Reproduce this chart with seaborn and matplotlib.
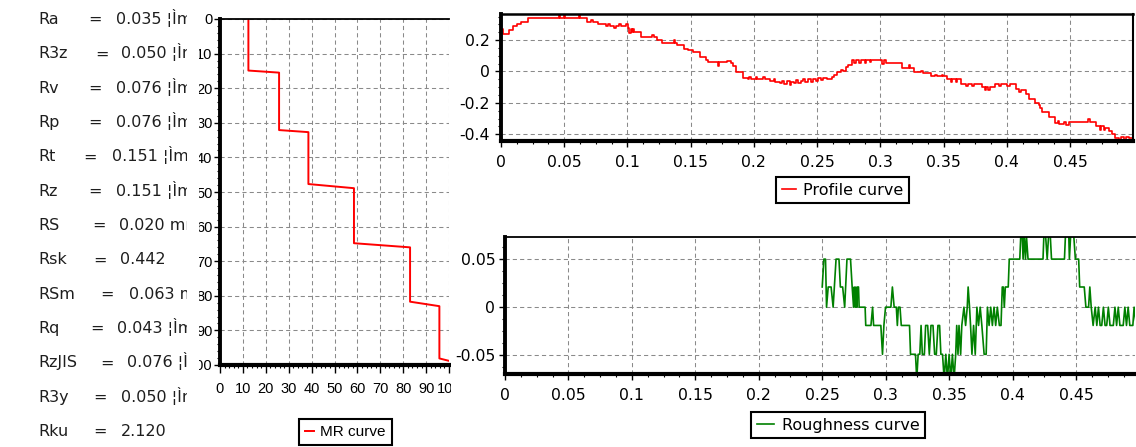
import matplotlib
matplotlib.use("Agg")
import matplotlib.pyplot as plt
import seaborn as sns
from matplotlib.ticker import FixedLocator, MultipleLocator, FuncFormatter
from matplotlib import font_manager
from matplotlib.font_manager import FontProperties

# ---------------- data ----------------
param_names = ["Ra", "R3z", "Rv", "Rp", "Rt", "Rz", "RS", "Rsk", "RSm", "Rq", "RzJIS", "R3y", "Rku"]
param_values = ["0.035", "0.050", "0.076", "0.076", "0.151", "0.151", "0.020", "0.442",
                "0.063", "0.043", "0.076", "0.050", "2.120"]
param_units = ["¦Ìm", "¦Ìm", "¦Ìm", "¦Ìm", "¦Ìm", "¦Ìm", "mm", "", "mm", "¦Ìm", "¦Ìm", "¦Ìm", ""]

mr_depth = [12.4, 12.4, 25.8, 25.8, 38.6, 38.6, 58.5, 58.5, 83.0, 83.0, 95.8, 95.8, 100.0]
mr_ratio = [0.0, 14.9, 15.5, 32.1, 32.7, 47.7, 48.9, 64.8, 66.0, 81.7, 83.0, 98.1, 98.8]
mr_ticks = [0, 10, 20, 30, 40, 50, 60, 70, 80, 90, 100]

prof_x = [0.000, 0.0015, 0.006, 0.0095, 0.0125, 0.016, 0.021, 0.0455, 0.0465, 0.0495,
          0.0505, 0.0615, 0.0625, 0.068, 0.0715, 0.0725, 0.0765, 0.0795, 0.083, 0.0845,
          0.086, 0.0895, 0.091, 0.0935, 0.095, 0.0985, 0.1005, 0.1015, 0.1025, 0.1035,
          0.1045, 0.1055, 0.1105, 0.1195, 0.121, 0.1235, 0.1275, 0.1365, 0.1375, 0.1395,
          0.1445, 0.148, 0.1515, 0.157, 0.1625, 0.164, 0.1715, 0.1725, 0.1785, 0.1815,
          0.1835, 0.186, 0.191, 0.195, 0.1965, 0.1975, 0.2015, 0.2025, 0.2075, 0.2085,
          0.2125, 0.2155, 0.2165, 0.2205, 0.2225, 0.2235, 0.2265, 0.2285, 0.2295, 0.2315,
          0.2335, 0.2345, 0.2375, 0.2385, 0.2405, 0.2425, 0.2455, 0.2465, 0.249, 0.251,
          0.253, 0.2545, 0.258, 0.2615, 0.2635, 0.2655, 0.2685, 0.2705, 0.2725, 0.2745,
          0.2775, 0.2795, 0.2805, 0.2835, 0.2845, 0.2875, 0.2885, 0.2915, 0.2925, 0.3015,
          0.3025, 0.3045, 0.3175, 0.3225, 0.3235, 0.327, 0.3325, 0.334, 0.340, 0.3435,
          0.3445, 0.3485, 0.3495, 0.353, 0.3555, 0.357, 0.3595, 0.3605, 0.3635, 0.364,
          0.368, 0.3695, 0.3725, 0.374, 0.380, 0.3825, 0.3835, 0.3855, 0.3865, 0.391,
          0.3935, 0.3955, 0.4005, 0.4025, 0.407, 0.4095, 0.4115, 0.415, 0.4175, 0.4225,
          0.4255, 0.4265, 0.428, 0.433, 0.438, 0.4405, 0.4415, 0.4455, 0.4465, 0.449,
          0.464, 0.4655, 0.4705, 0.4735, 0.4745, 0.4765, 0.4775, 0.4805, 0.4835, 0.4855,
          0.489, 0.4905, 0.493, 0.4945, 0.4965, 0.499]
prof_y = [0.27, 0.24, 0.265, 0.29, 0.30, 0.315, 0.338, 0.362, 0.338, 0.362,
          0.338, 0.362, 0.338, 0.316, 0.33, 0.316, 0.303, 0.30, 0.29, 0.305,
          0.29, 0.275, 0.29, 0.305, 0.29, 0.30, 0.28, 0.245, 0.27, 0.25,
          0.27, 0.25, 0.22, 0.235, 0.22, 0.203, 0.181, 0.198, 0.181, 0.166,
          0.145, 0.135, 0.123, 0.09, 0.07, 0.058, 0.035, 0.058, 0.068, 0.055,
          0.037, -0.006, -0.04, -0.048, -0.035, -0.048, -0.035, -0.048, -0.035, -0.048,
          -0.06, -0.045, -0.065, -0.075, -0.06, -0.078, -0.062, -0.085, -0.065, -0.075,
          -0.055, -0.075, -0.06, -0.045, -0.065, -0.045, -0.07, -0.045, -0.06, -0.04,
          -0.055, -0.04, -0.048, -0.035, -0.02, -0.005, 0.012, 0.0, 0.03, 0.04,
          0.073, 0.055, 0.073, 0.055, 0.073, 0.055, 0.073, 0.058, 0.073, 0.05,
          0.073, 0.052, 0.022, 0.04, 0.022, -0.006, 0.0, -0.01, -0.028, -0.02,
          -0.03, -0.02, -0.03, -0.048, -0.065, -0.048, -0.065, -0.05, -0.07, -0.08,
          -0.095, -0.08, -0.095, -0.08, -0.1, -0.12, -0.1, -0.12, -0.1, -0.08,
          -0.09, -0.078, -0.09, -0.078, -0.11, -0.13, -0.115, -0.145, -0.175, -0.2,
          -0.215, -0.23, -0.26, -0.29, -0.33, -0.315, -0.335, -0.325, -0.34, -0.325,
          -0.3, -0.325, -0.35, -0.37, -0.35, -0.375, -0.36, -0.38, -0.4, -0.425,
          -0.435, -0.42, -0.435, -0.42, -0.425, -0.425]
prof_xticks = [0, 0.05, 0.1, 0.15, 0.2, 0.25, 0.3, 0.35, 0.4, 0.45]
prof_yticks = [-0.4, -0.2, 0, 0.2]

rough_x = [0.2500, 0.2513, 0.2526, 0.2534, 0.2547, 0.2570, 0.2586, 0.2609, 0.2632, 0.2643,
           0.2661, 0.2677, 0.2695, 0.2723, 0.2736, 0.2747, 0.2752, 0.2760, 0.2765, 0.2773,
           0.2778, 0.2786, 0.2791, 0.2838, 0.2843, 0.2884, 0.2897, 0.2905, 0.2962, 0.2975,
           0.2986, 0.2999, 0.3041, 0.3053, 0.3067, 0.3084, 0.3092, 0.3100, 0.3113, 0.3123,
           0.3188, 0.3196, 0.3235, 0.3245, 0.3256, 0.3269, 0.3279, 0.3289, 0.3305, 0.3315,
           0.3331, 0.3344, 0.3357, 0.3373, 0.3386, 0.3399, 0.3412, 0.3425, 0.3435, 0.3448,
           0.3461, 0.3474, 0.3487, 0.3500, 0.3513, 0.3526, 0.3539, 0.3552, 0.3560, 0.3570,
           0.3578, 0.3591, 0.3600, 0.3617, 0.3630, 0.3643, 0.3650, 0.3661, 0.3669, 0.3680,
           0.3693, 0.3706, 0.3719, 0.3732, 0.3745, 0.3758, 0.3776, 0.3792, 0.3802, 0.3815,
           0.3828, 0.3841, 0.3854, 0.3867, 0.3880, 0.3896, 0.3909, 0.3919, 0.3927, 0.3935,
           0.3943, 0.3966, 0.3974, 0.4057, 0.4065, 0.4076, 0.4083, 0.4091, 0.4102, 0.4109,
           0.4122, 0.4240, 0.4247, 0.4260, 0.4273, 0.4284, 0.4297, 0.4307, 0.4409, 0.4417,
           0.4443, 0.4448, 0.4458, 0.4482, 0.4495, 0.4521, 0.4529, 0.4565, 0.4578, 0.4599,
           0.4609, 0.4620, 0.4635, 0.4651, 0.4664, 0.4677, 0.4690, 0.4703, 0.4716, 0.4729,
           0.4742, 0.4755, 0.4768, 0.4794, 0.4807, 0.4820, 0.4833, 0.4846, 0.4872, 0.4885,
           0.4898, 0.4911, 0.4924, 0.4948, 0.4958, 0.4975]
rough_y = [0.021, 0.05, 0.05, 0.0, 0.021, 0.021, 0.0, 0.05, 0.05, 0.021,
           0.021, 0.0, 0.05, 0.05, 0.021, 0.0, 0.021, 0.0, 0.021, 0.0,
           0.021, 0.021, 0.0, 0.0, -0.019, -0.019, 0.0, -0.019, -0.019, -0.049,
           -0.019, 0.0, 0.0, 0.021, 0.0, 0.0, -0.019, 0.0, 0.0, -0.019,
           -0.019, -0.049, -0.049, -0.075, -0.049, -0.049, -0.019, -0.049, -0.049, -0.019,
           -0.019, -0.049, -0.019, -0.019, -0.049, -0.049, -0.019, -0.019, -0.049, -0.049,
           -0.075, -0.049, -0.075, -0.049, -0.075, -0.049, -0.075, -0.049, -0.019, -0.049,
           -0.019, -0.049, -0.019, 0.0, -0.019, 0.0, 0.021, 0.0, -0.019, -0.049,
           -0.019, -0.049, 0.0, -0.019, 0.0, -0.019, -0.049, -0.049, 0.0, -0.019,
           0.0, -0.019, 0.0, -0.019, 0.0, -0.019, -0.019, 0.021, 0.021, 0.0,
           0.021, 0.021, 0.05, 0.05, 0.075, 0.075, 0.05, 0.075, 0.05, 0.075,
           0.05, 0.05, 0.075, 0.075, 0.05, 0.075, 0.075, 0.05, 0.05, 0.075,
           0.075, 0.05, 0.075, 0.075, 0.05, 0.05, 0.021, 0.021, 0.0, 0.0,
           0.021, 0.0, -0.019, 0.0, -0.019, 0.0, -0.019, -0.019, 0.0, -0.019,
           -0.019, 0.0, -0.019, -0.019, 0.0, -0.019, 0.0, -0.019, -0.019, 0.0,
           -0.019, 0.0, -0.019, -0.019, 0.0, -0.019]
rough_xticks = [0, 0.05, 0.1, 0.15, 0.2, 0.25, 0.3, 0.35, 0.4, 0.45]
rough_yticks = [-0.05, 0, 0.05]

# ---------------- fonts ----------------
plt.rcParams["font.family"] = ["DejaVu Sans"]
_names = {f.name for f in font_manager.fontManager.ttflist}
_narrow_family = None
for pref in ("Liberation Sans Narrow", "DejaVu Sans Condensed", "Liberation Sans", "Roboto"):
    if pref in _names:
        _narrow_family = pref
        break


def narrow_fp(size):
    if _narrow_family:
        return FontProperties(family=_narrow_family, size=size)
    return FontProperties(family="DejaVu Sans", size=size * 0.85)


W, H = 1136, 447
fig = plt.figure(figsize=(W / 100, H / 100), dpi=100)
fig.patch.set_facecolor("white")


def fbox(l, t, r, b):
    return [l / W, 1 - b / H, (r - l) / W, (b - t) / H]


def blank(ax):
    ax.set_xticks([])
    ax.set_yticks([])
    for s in ax.spines.values():
        s.set_visible(False)


GRID = dict(color="#8a8a8a", linestyle=(0, (4, 3)), linewidth=0.75)
fmt = FuncFormatter(lambda v, p: f"{v:g}")

# ---------------- MR curve ----------------
ax_mr = fig.add_axes(fbox(220, 19, 449, 365), zorder=0)
sns.lineplot(x=mr_depth, y=mr_ratio, ax=ax_mr, color="#ff0000", linewidth=1.4,
             sort=False, estimator=None, label="MR curve")
ax_mr.set_xlim(0, 100)
ax_mr.set_ylim(100, 0)
ax_mr.xaxis.set_major_locator(FixedLocator(mr_ticks))
ax_mr.yaxis.set_major_locator(FixedLocator(mr_ticks))
ax_mr.xaxis.set_minor_locator(MultipleLocator(2))
ax_mr.yaxis.set_minor_locator(MultipleLocator(2))
ax_mr.xaxis.set_major_formatter(fmt)
ax_mr.yaxis.set_major_formatter(fmt)
ax_mr.grid(True, which="major", **GRID)
ax_mr.set_axisbelow(True)
ax_mr.spines["left"].set_linewidth(2.8)
ax_mr.spines["bottom"].set_linewidth(3.0)
ax_mr.spines["top"].set_linewidth(1.3)
ax_mr.spines["right"].set_visible(False)
ax_mr.tick_params(axis="x", which="major", direction="out", length=6, width=1.0, pad=6)
ax_mr.tick_params(axis="y", which="major", direction="out", length=4, width=1.0, pad=1.5)
ax_mr.tick_params(which="minor", direction="out", length=2.5, width=0.8)
ax_mr.set_xlabel("")
ax_mr.set_ylabel("")
for lab in ax_mr.get_xticklabels() + ax_mr.get_yticklabels():
    lab.set_fontproperties(narrow_fp(10.5))
leg = ax_mr.legend(loc="upper left", bbox_to_anchor=(299 / W, 1 - 419 / H),
                   bbox_transform=fig.transFigure, borderaxespad=0, fancybox=False,
                   framealpha=1, edgecolor="black", prop=narrow_fp(11),
                   handlelength=0.6, handletextpad=0.4, borderpad=0.4)
leg.get_frame().set_linewidth(1.5)

# ---------------- white panels (clip neighbouring labels) ----------------
pr = fig.add_axes(fbox(451, 0, W, H), zorder=1)
blank(pr)
pl = fig.add_axes(fbox(0, 0, 199, H), zorder=1)
blank(pl)

# ---------------- parameter text ----------------
tx = fig.add_axes(fbox(0, 0, 187, H), zorder=3)
blank(tx)
tx.set_facecolor("none")
tx.set_xlim(0, 187)
tx.set_ylim(H, 0)
eq_px = [88, 95, 88, 88, 83, 88, 92, 93, 100, 90, 100, 93, 93]
val_px = [116, 121, 116, 116, 112, 116, 119, 120, 129, 117, 127, 121, 121]
for i, (nm, vv, un) in enumerate(zip(param_names, param_values, param_units)):
    yb = 24 + 34.35 * i
    kw = dict(fontsize=11.5, color="#1e1e1e", va="baseline", ha="left", clip_on=True)
    tx.text(38, yb, nm, **kw)
    tx.text(eq_px[i], yb, "=", **kw)
    tx.text(val_px[i], yb, (vv + " " + un).strip(), **kw)

# ---------------- profile curve ----------------
ax_p = fig.add_axes(fbox(501, 14, 1133, 141), zorder=2)
sns.lineplot(x=prof_x, y=prof_y, ax=ax_p, color="#ff0000", linewidth=1.2,
             drawstyle="steps-post", sort=False, estimator=None, label="Profile curve")
ax_p.set_xlim(0, 0.4998)
ax_p.set_ylim(-0.443, 0.366)
ax_p.xaxis.set_major_locator(FixedLocator(prof_xticks))
ax_p.yaxis.set_major_locator(FixedLocator(prof_yticks))
ax_p.xaxis.set_minor_locator(MultipleLocator(0.0125))
ax_p.yaxis.set_minor_locator(MultipleLocator(0.05))
ax_p.xaxis.set_major_formatter(fmt)
ax_p.yaxis.set_major_formatter(fmt)
ax_p.grid(True, which="major", **GRID)
ax_p.set_axisbelow(True)
ax_p.spines["left"].set_linewidth(2.8)
ax_p.spines["bottom"].set_linewidth(3.0)
ax_p.spines["top"].set_linewidth(1.8)
ax_p.spines["right"].set_linewidth(1.5)
ax_p.tick_params(which="major", direction="out", length=4, width=1.0, labelsize=11.3, pad=4)
ax_p.tick_params(axis="x", which="major", pad=6)
ax_p.tick_params(which="minor", direction="out", length=2.5, width=0.8)
ax_p.set_xlabel("")
ax_p.set_ylabel("")
leg = ax_p.legend(loc="upper left", bbox_to_anchor=(776 / W, 1 - 177 / H),
                  bbox_transform=fig.transFigure, borderaxespad=0, fancybox=False,
                  framealpha=1, edgecolor="black", fontsize=11.5,
                  handlelength=0.9, handletextpad=0.45, borderpad=0.35)
leg.get_frame().set_linewidth(1.5)

# ---------------- roughness curve ----------------
ax_r = fig.add_axes(fbox(505, 237, 1135, 374), zorder=2)
sns.lineplot(x=rough_x, y=rough_y, ax=ax_r, color="#008000", linewidth=1.2,
             sort=False, estimator=None, label="Roughness curve")
ax_r.set_xlim(0, 0.4965)
ax_r.set_ylim(-0.0695, 0.073)
ax_r.xaxis.set_major_locator(FixedLocator(rough_xticks))
ax_r.yaxis.set_major_locator(FixedLocator(rough_yticks))
ax_r.xaxis.set_minor_locator(MultipleLocator(0.0125))
ax_r.yaxis.set_minor_locator(MultipleLocator(0.0125))
ax_r.xaxis.set_major_formatter(fmt)
ax_r.yaxis.set_major_formatter(fmt)
ax_r.grid(True, which="major", **GRID)
ax_r.set_axisbelow(True)
ax_r.spines["left"].set_linewidth(2.8)
ax_r.spines["bottom"].set_linewidth(3.0)
ax_r.spines["top"].set_linewidth(1.3)
ax_r.spines["right"].set_visible(False)
ax_r.tick_params(which="major", direction="out", length=4, width=1.0, labelsize=11.3, pad=3)
ax_r.tick_params(axis="x", which="major", pad=6)
ax_r.tick_params(which="minor", direction="out", length=2.5, width=0.8)
ax_r.set_xlabel("")
ax_r.set_ylabel("")
leg = ax_r.legend(loc="upper left", bbox_to_anchor=(751 / W, 1 - 412 / H),
                  bbox_transform=fig.transFigure, borderaxespad=0, fancybox=False,
                  framealpha=1, edgecolor="black", fontsize=11.5,
                  handlelength=1.1, handletextpad=0.5, borderpad=0.35)
leg.get_frame().set_linewidth(1.5)

fig.savefig("out.png", dpi=100, facecolor="white")
